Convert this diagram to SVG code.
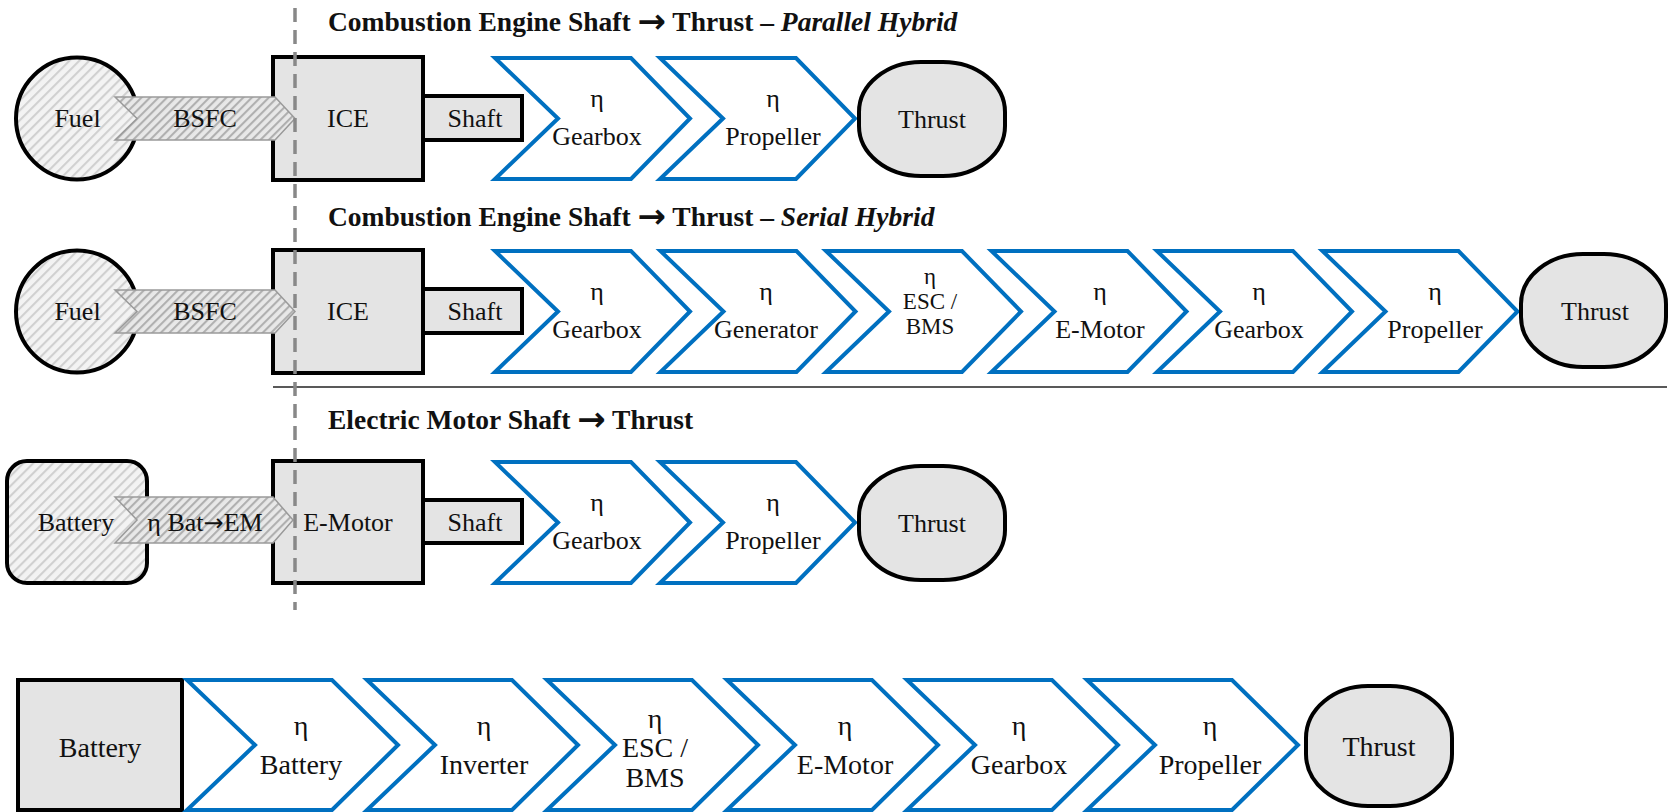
<svg xmlns="http://www.w3.org/2000/svg" xmlns:xlink="http://www.w3.org/1999/xlink" width="1668" height="812" viewBox="0 0 1668 812">
<defs>
<pattern id="hatchLight" width="7" height="7" patternUnits="userSpaceOnUse" patternTransform="rotate(45)"><rect width="7" height="7" fill="#f3f3f3"/><line x1="1" y1="0" x2="1" y2="7" stroke="#d0d0d0" stroke-width="2.2"/></pattern>
<pattern id="hatchDark" width="6" height="6" patternUnits="userSpaceOnUse" patternTransform="rotate(45)"><rect width="6" height="6" fill="#e8e8e8"/><line x1="1" y1="0" x2="1" y2="6" stroke="#b0b0b0" stroke-width="2.2"/></pattern>
<polygon id="chev" points="0,0 136,0 195,60.5 136,121 0,121 63,60.5"/>
<polygon id="chev4" points="0,0 145,0 211,65 145,130 0,130 68,65"/>
</defs>
<style>
text{font-family:"Liberation Serif","Times New Roman",serif;fill:#111;}
.t{font-size:26px;text-anchor:middle;}
.ts{font-size:23px;text-anchor:middle;}
.t4{font-size:28px;text-anchor:middle;}
.title{font-size:27.5px;font-weight:bold;}
.it{font-style:italic;}
.arr{font-family:"DejaVu Sans",sans-serif;font-weight:bold;font-size:34px;}
.arr2{font-family:"DejaVu Sans",sans-serif;font-size:24px;}
.blk{fill:#e4e4e4;stroke:#000;stroke-width:4;}
.src{fill:url(#hatchLight);stroke:#000;stroke-width:4;}
.flow{fill:url(#hatchDark);stroke:#9a9a9a;stroke-width:1.5;}
.chev{fill:#fff;stroke:#0070C0;stroke-width:4;stroke-linejoin:miter;}
.sep{stroke:#222;stroke-width:1.5;fill:none;}
.dash{stroke:#888;stroke-width:3.5;stroke-dasharray:14 8;fill:none;}
</style>
<rect width="1668" height="812" fill="#fff"/>

<!-- Row 1 -->
<text class="title" x="328" y="31">Combustion Engine Shaft <tspan class="arr" dy="2">→</tspan><tspan dy="-2"> Thrust – </tspan><tspan class="it">Parallel Hybrid</tspan></text>
<g id="r1-fuel"><circle class="src" cx="77" cy="118.5" r="61"/><text class="t" x="77.5" y="127">Fuel</text></g>
<g id="r1-ice"><rect class="blk" x="273" y="57" width="150" height="123"/><text class="t" x="348" y="127">ICE</text></g>
<g id="r1-bsfc"><polygon class="flow" points="115,97 275,97 295,118.5 275,140 115,140 137,118.5"/><text class="t" x="205" y="127">BSFC</text></g>
<g id="r1-shaft"><rect class="blk" x="423" y="96" width="99" height="44"/><text class="t" x="475" y="127">Shaft</text></g>
<g id="r1-gearbox"><use xlink:href="#chev" class="chev" x="495" y="58"/><text class="t" x="597" y="107">η</text><text class="t" x="597" y="144.5">Gearbox</text></g>
<g id="r1-propeller"><use xlink:href="#chev" class="chev" x="660" y="58"/><text class="t" x="773" y="107">η</text><text class="t" x="773" y="144.5">Propeller</text></g>
<g id="r1-thrust"><rect class="blk" x="859" y="62" width="146" height="114" rx="62" ry="50"/><text class="t" x="932" y="128">Thrust</text></g>

<!-- Row 2 -->
<text class="title" x="328" y="226">Combustion Engine Shaft <tspan class="arr" dy="2">→</tspan><tspan dy="-2"> Thrust – </tspan><tspan class="it">Serial Hybrid</tspan></text>
<g id="r2-fuel"><circle class="src" cx="77" cy="311.5" r="61"/><text class="t" x="77.5" y="320">Fuel</text></g>
<g id="r2-ice"><rect class="blk" x="273" y="250" width="150" height="123"/><text class="t" x="348" y="320">ICE</text></g>
<g id="r2-bsfc"><polygon class="flow" points="115,290 275,290 295,311.5 275,333 115,333 137,311.5"/><text class="t" x="205" y="320">BSFC</text></g>
<g id="r2-shaft"><rect class="blk" x="423" y="289" width="99" height="44"/><text class="t" x="475" y="320">Shaft</text></g>
<g id="r2-gearbox1"><use xlink:href="#chev" class="chev" x="495" y="251"/><text class="t" x="597" y="300">η</text><text class="t" x="597" y="337.5">Gearbox</text></g>
<g id="r2-generator"><use xlink:href="#chev" class="chev" x="660.5" y="251"/><text class="t" x="766" y="300">η</text><text class="t" x="766" y="337.5">Generator</text></g>
<g id="r2-esc"><use xlink:href="#chev" class="chev" x="826" y="251"/><text class="ts" x="930" y="284">η</text><text class="ts" x="930" y="309">ESC /</text><text class="ts" x="930" y="334">BMS</text></g>
<g id="r2-emotor"><use xlink:href="#chev" class="chev" x="991.5" y="251"/><text class="t" x="1100" y="300">η</text><text class="t" x="1100" y="337.5">E-Motor</text></g>
<g id="r2-gearbox2"><use xlink:href="#chev" class="chev" x="1157" y="251"/><text class="t" x="1259" y="300">η</text><text class="t" x="1259" y="337.5">Gearbox</text></g>
<g id="r2-propeller"><use xlink:href="#chev" class="chev" x="1322.5" y="251"/><text class="t" x="1435" y="300">η</text><text class="t" x="1435" y="337.5">Propeller</text></g>
<g id="r2-thrust"><rect class="blk" x="1521" y="254" width="145" height="113" rx="62" ry="50"/><text class="t" x="1595" y="320">Thrust</text></g>

<!-- Row 3 -->
<text class="title" x="328" y="429">Electric Motor Shaft <tspan class="arr" dy="2">→</tspan><tspan dy="-2"> Thrust</tspan></text>
<g id="r3-battery"><rect class="src" x="7" y="461" width="140" height="122" rx="20" ry="20"/><text class="t" x="76" y="531">Battery</text></g>
<g id="r3-emotor-box"><rect class="blk" x="273" y="461" width="150" height="122"/><text class="t" x="348" y="531">E-Motor</text></g>
<g id="r3-bat-em"><polygon class="flow" points="115,497 273,497 293,520 273,543 115,543 137,520"/><text class="t" x="205" y="531">η Bat<tspan class="arr2">→</tspan>EM</text></g>
<g id="r3-shaft"><rect class="blk" x="423" y="500" width="99" height="43"/><text class="t" x="475" y="531">Shaft</text></g>
<g id="r3-gearbox"><use xlink:href="#chev" class="chev" x="495" y="462"/><text class="t" x="597" y="511">η</text><text class="t" x="597" y="548.5">Gearbox</text></g>
<g id="r3-propeller"><use xlink:href="#chev" class="chev" x="660" y="462"/><text class="t" x="773" y="511">η</text><text class="t" x="773" y="548.5">Propeller</text></g>
<g id="r3-thrust"><rect class="blk" x="859" y="466" width="146" height="114" rx="62" ry="50"/><text class="t" x="932" y="532">Thrust</text></g>

<!-- Row 4 -->
<g id="r4-battery"><rect class="blk" x="18" y="680" width="164" height="130"/><text class="t4" x="100" y="757">Battery</text></g>
<g id="r4-battery-eff"><use xlink:href="#chev4" class="chev" x="187" y="680"/><text class="t4" x="301" y="735">η</text><text class="t4" x="301" y="774">Battery</text></g>
<g id="r4-inverter"><use xlink:href="#chev4" class="chev" x="367" y="680"/><text class="t4" x="484" y="735">η</text><text class="t4" x="484" y="774">Inverter</text></g>
<g id="r4-esc"><use xlink:href="#chev4" class="chev" x="547" y="680"/><text class="t4" x="655" y="728">η</text><text class="t4" x="655" y="757">ESC /</text><text class="t4" x="655" y="787">BMS</text></g>
<g id="r4-emotor"><use xlink:href="#chev4" class="chev" x="727" y="680"/><text class="t4" x="845" y="735">η</text><text class="t4" x="845" y="774">E-Motor</text></g>
<g id="r4-gearbox"><use xlink:href="#chev4" class="chev" x="907" y="680"/><text class="t4" x="1019" y="735">η</text><text class="t4" x="1019" y="774">Gearbox</text></g>
<g id="r4-propeller"><use xlink:href="#chev4" class="chev" x="1087" y="680"/><text class="t4" x="1210" y="735">η</text><text class="t4" x="1210" y="774">Propeller</text></g>
<g id="r4-thrust"><rect class="blk" x="1306" y="686" width="146" height="120" rx="62" ry="52"/><text class="t4" x="1379" y="756">Thrust</text></g>

<g id="connectors">
<line class="sep" x1="273" y1="387" x2="1667" y2="387"/>
<line class="dash" x1="295" y1="8" x2="295" y2="610"/>
</g>
</svg>
